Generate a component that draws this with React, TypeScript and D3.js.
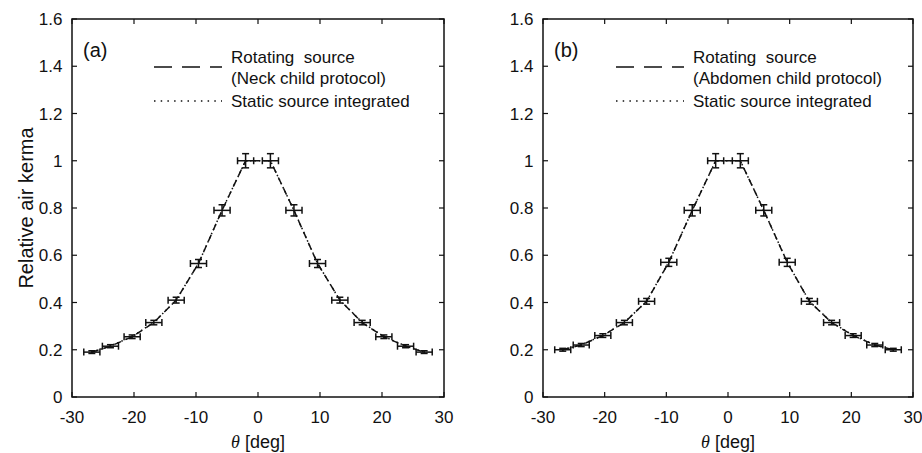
import React from 'react'
import * as d3 from 'd3'

// angles of the measurement points [deg]
const thetaDeg = [-26.8, -23.8, -20.3, -16.8, -13.2, -9.6, -5.8, -2, 2, 5.8, 9.6, 13.2, 16.8, 20.3, 23.8, 26.8]

// (a) neck child protocol
const rotatingNeck = [0.19, 0.215, 0.255, 0.315, 0.41, 0.565, 0.79, 1.0, 1.0, 0.79, 0.565, 0.41, 0.315, 0.255, 0.215, 0.19]
const staticNeck = [0.19, 0.216, 0.256, 0.316, 0.41, 0.566, 0.79, 1.0, 1.0, 0.79, 0.566, 0.41, 0.316, 0.256, 0.216, 0.19]

// (b) abdomen child protocol
const rotatingAbdomen = [0.2, 0.22, 0.26, 0.315, 0.405, 0.57, 0.79, 1.0, 1.0, 0.79, 0.57, 0.405, 0.315, 0.26, 0.22, 0.2]
const staticAbdomen = [0.2, 0.221, 0.261, 0.316, 0.405, 0.571, 0.79, 1.0, 1.0, 0.79, 0.571, 0.405, 0.316, 0.261, 0.221, 0.2]

const xErr = 1.3 // deg
const yErrRel = 0.03

const xTicks = [-30, -20, -10, 0, 10, 20, 30]
const yTicks = [0, 0.2, 0.4, 0.6, 0.8, 1, 1.2, 1.4, 1.6]

const FONT = '"Liberation Sans", Arial, Helvetica, sans-serif'
const INK = '#111'

function Panel(props) {
    let {left, right, top, bottom, label, protocol, rotating, stat, showYLabel, legX} = props

    let x = d3.scaleLinear().domain([-30, 30]).range([left, right])
    let y = d3.scaleLinear().domain([0, 1.6]).range([bottom, top])

    let line = d3.line()
        .x(function(d) { return x(d[0]) })
        .y(function(d) { return y(d[1]) })

    let rotPts = thetaDeg.map(function(t, i) { return [t, rotating[i]] })
    let statPts = thetaDeg.map(function(t, i) { return [t, stat[i]] })

    let tick = 5
    let cap = 3.5

    let errorBars = rotPts.map(function(d, i) {
        let cx = x(d[0]), cy = y(d[1])
        let x0 = x(d[0] - xErr), x1 = x(d[0] + xErr)
        let dy = y(d[1] * (1 - yErrRel)) - cy
        return (
            <g key={i} stroke={INK} strokeWidth={1.5}>
                <line x1={x0} x2={x1} y1={cy} y2={cy}/>
                <line x1={x0} x2={x0} y1={cy - cap} y2={cy + cap}/>
                <line x1={x1} x2={x1} y1={cy - cap} y2={cy + cap}/>
                <line x1={cx} x2={cx} y1={cy - dy} y2={cy + dy}/>
                <line x1={cx - cap} x2={cx + cap} y1={cy - dy} y2={cy - dy}/>
                <line x1={cx - cap} x2={cx + cap} y1={cy + dy} y2={cy + dy}/>
            </g>
        )
    })

    let legTextX = legX + 77

    return (
        <g fontFamily={FONT} fill={INK}>
            <path d={line(rotPts)} fill="none" stroke={INK} strokeWidth={1.5} strokeDasharray="7,5"/>
            <path d={line(statPts)} fill="none" stroke={INK} strokeWidth={1.5} strokeDasharray="1.5,3"/>
            {errorBars}

            {/* box + ticks */}
            <rect x={left} y={top} width={right - left} height={bottom - top} fill="none" stroke={INK} strokeWidth={1.5}/>
            {xTicks.map(function(t) {
                return (
                    <g key={'x' + t}>
                        <line x1={x(t)} x2={x(t)} y1={bottom} y2={bottom - tick} stroke={INK} strokeWidth={1.2}/>
                        <line x1={x(t)} x2={x(t)} y1={top} y2={top + tick} stroke={INK} strokeWidth={1.2}/>
                        <text x={x(t)} y={bottom + 26} textAnchor="middle" fontSize={17}>{t}</text>
                    </g>
                )
            })}
            {yTicks.map(function(t) {
                return (
                    <g key={'y' + t}>
                        <line x1={left} x2={left + tick} y1={y(t)} y2={y(t)} stroke={INK} strokeWidth={1.2}/>
                        <line x1={right} x2={right - tick} y1={y(t)} y2={y(t)} stroke={INK} strokeWidth={1.2}/>
                        <text x={left - 9.5} y={y(t) + 6} textAnchor="end" fontSize={17}>{d3.format('~g')(t)}</text>
                    </g>
                )
            })}

            <text x={x(0)} y={bottom + 51} textAnchor="middle" fontSize={18}>
                <tspan fontFamily='"Liberation Serif", serif' fontStyle="italic">θ</tspan> [deg]
            </text>
            {showYLabel ? (
                <text transform={'translate(' + (left - 39) + ',' + ((top + bottom) / 2) + ') rotate(-90)'} textAnchor="middle" fontSize={20}>Relative air kerma</text>
            ) : null}

            <text x={left + 11} y={top + 38} fontSize={20}>{label}</text>

            {/* legend */}
            <line x1={legX} x2={legX + 68} y1={67} y2={67} stroke={INK} strokeWidth={1.5} strokeDasharray="18,10"/>
            <text x={legTextX} y={62.5} fontSize={17} style={{whiteSpace: 'pre'}}>Rotating  source</text>
            <text x={legTextX} y={84} fontSize={17}>{protocol}</text>
            <line x1={legX} x2={legX + 68} y1={101} y2={101} stroke={INK} strokeWidth={1.5} strokeDasharray="1.5,5.2"/>
            <text x={legTextX} y={106.5} fontSize={17}>Static source integrated</text>
        </g>
    )
}

export default function App() {
    return (
        <svg width={922} height={453} style={{position: 'absolute', left: 0, top: 0, background: '#fff'}}>
            <rect width={922} height={453} fill="#fff"/>
            <Panel left={72} right={444} top={19} bottom={397} label="(a)" protocol="(Neck child protocol)"
                   rotating={rotatingNeck} stat={staticNeck} showYLabel={true} legX={154}/>
            <Panel left={543} right={913} top={19} bottom={397} label="(b)" protocol="(Abdomen child protocol)"
                   rotating={rotatingAbdomen} stat={staticAbdomen} showYLabel={false} legX={616}/>
        </svg>
    )
}
